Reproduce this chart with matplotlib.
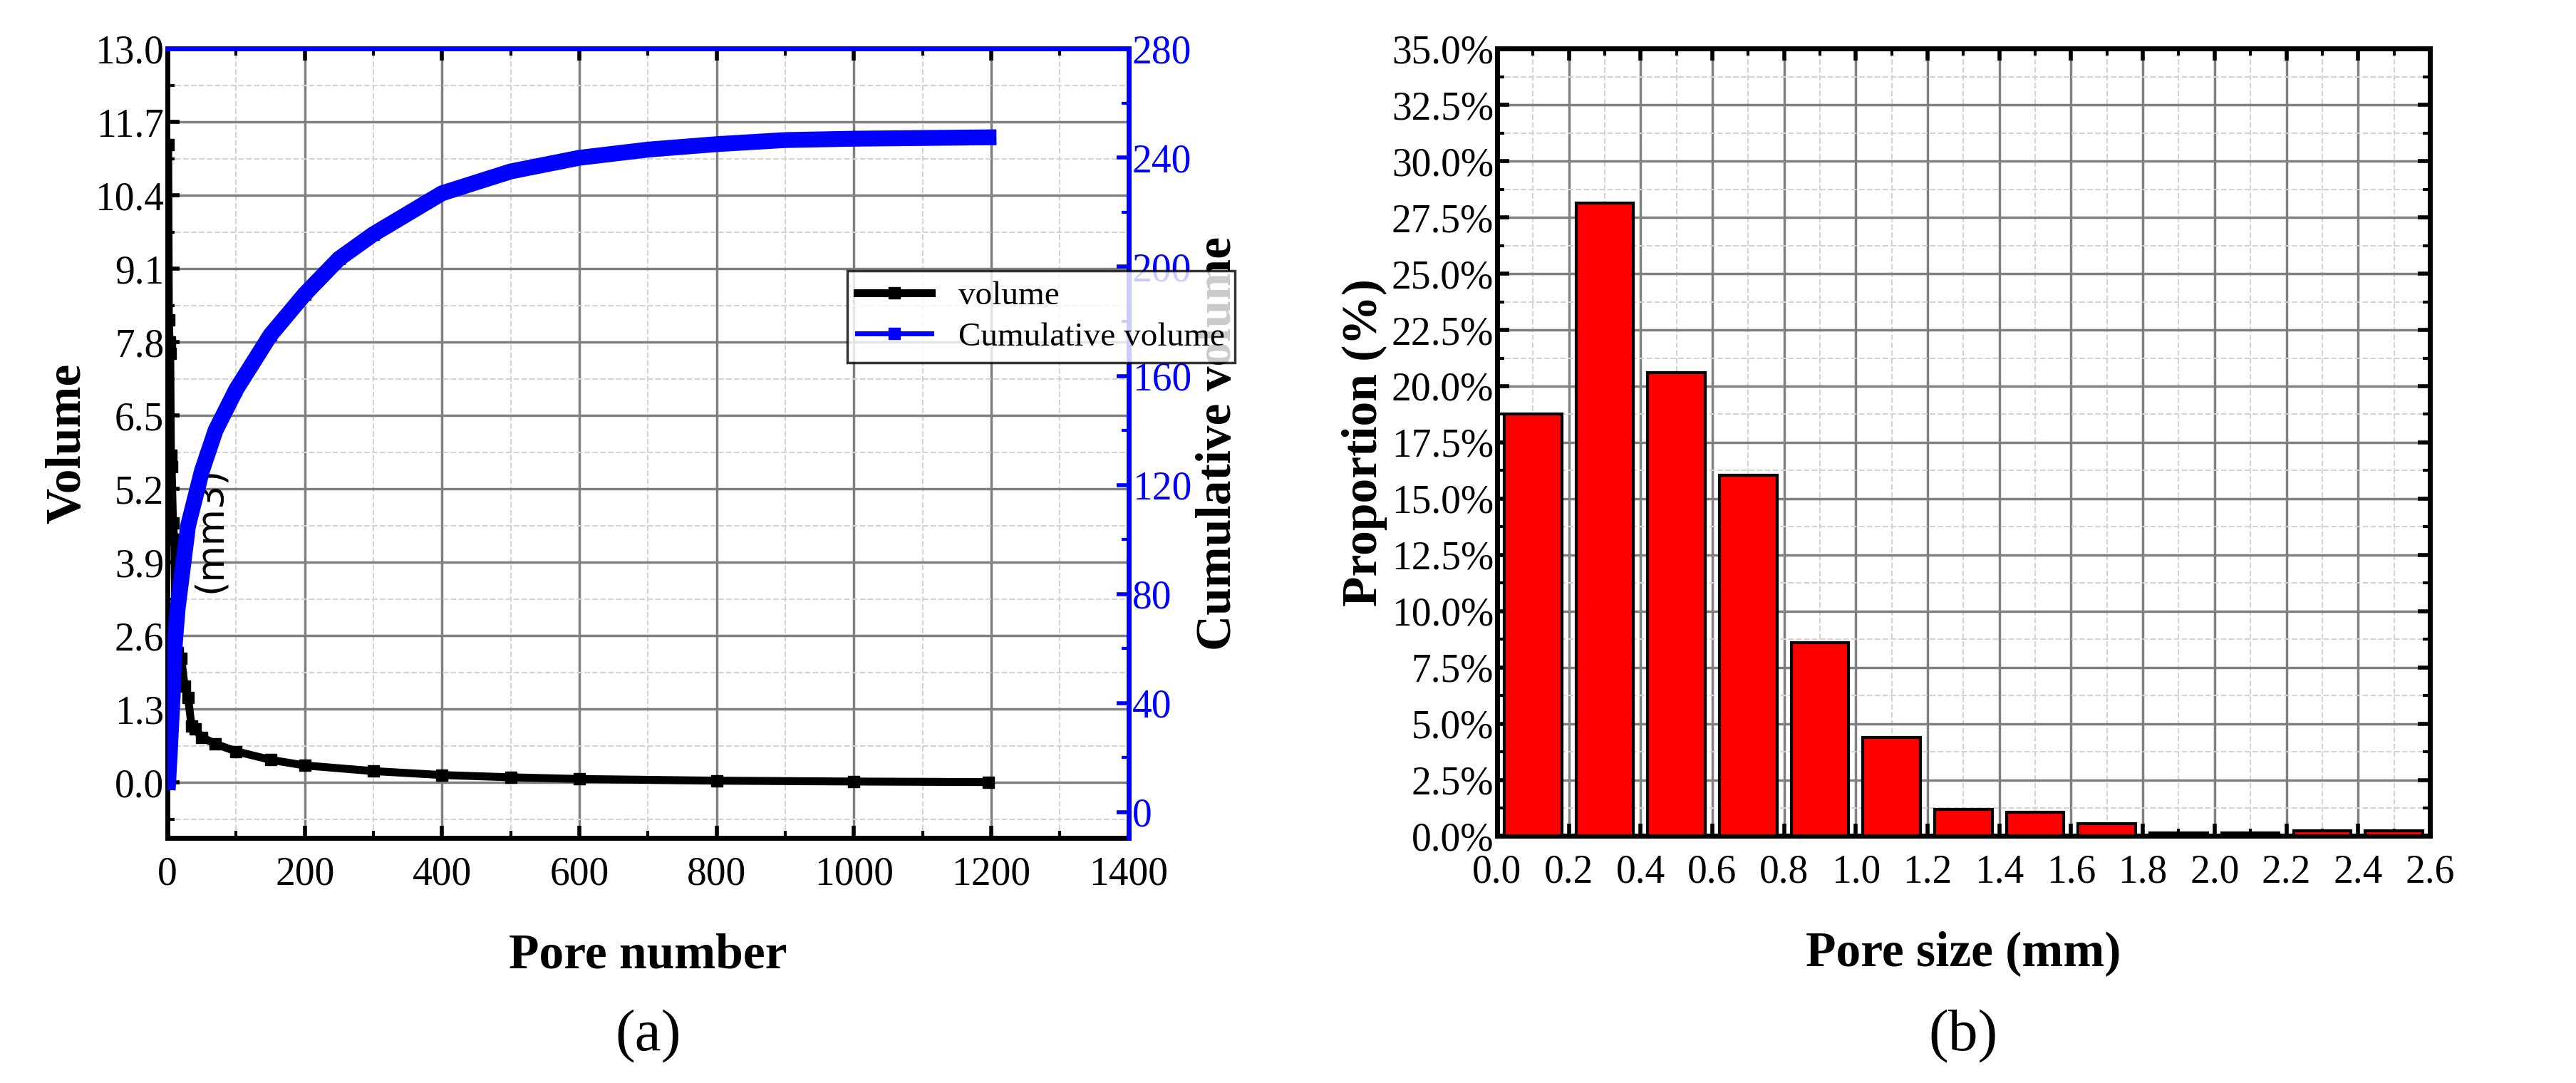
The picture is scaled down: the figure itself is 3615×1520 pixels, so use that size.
import matplotlib
matplotlib.use('Agg')
import matplotlib.pyplot as plt
from matplotlib.ticker import MultipleLocator, PercentFormatter

plt.rcParams['font.family'] = ['Liberation Serif', 'DejaVu Serif']

# (a) pore volumes sorted by size
pore_idx = [1, 2, 3, 4, 5, 6, 8, 10, 12, 15, 20, 25, 30, 35, 40, 50, 70, 100,
            150, 200, 300, 400, 500, 600, 800, 1000, 1196]
volume = [11.3, 8.2, 7.8, 7.6, 5.8, 5.6, 4.6, 4.3, 2.5, 2.3, 2.2, 1.7, 1.5,
          1.0, 0.95, 0.8, 0.68, 0.55, 0.4, 0.3, 0.2, 0.13, 0.09, 0.06, 0.03,
          0.015, 0.005]
cum_idx = [1, 3, 5, 8, 10, 15, 20, 30, 50, 70, 100, 150, 200, 250, 300, 400,
           500, 600, 700, 800, 900, 1000, 1196]
cum_volume = [11, 20, 30, 45, 60, 75, 85, 105, 125, 140, 155, 175, 190, 203,
              212, 227, 235, 240, 243, 245, 246.5, 247, 247.5]

# (b) pore size distribution
size_centers = [0.1, 0.3, 0.5, 0.7, 0.9, 1.1, 1.3, 1.5, 1.7, 1.9, 2.1, 2.3, 2.5]
proportion = [18.75, 28.15, 20.6, 16.05, 8.6, 4.4, 1.2, 1.05, 0.55, 0.15,
              0.15, 0.25, 0.25]

fig = plt.figure(figsize=(36.16, 15.2), dpi=100)
ax1 = fig.add_axes([0.065, 0.226, 0.373, 0.729])
ax2 = ax1.twinx()

ax1.plot(pore_idx, volume, color='black', lw=8, marker='s', ms=12, label='volume')
ax2.plot(cum_idx, cum_volume, color='blue', lw=16, marker='s', ms=12, label='Cumulative volume')

ax1.set_xlim(0, 1400)
ax1.set_ylim(-0.99, 13.0)
ax2.set_ylim(-9.6, 280)
ax1.xaxis.set_major_locator(MultipleLocator(200))
ax1.xaxis.set_minor_locator(MultipleLocator(100))
ax1.yaxis.set_major_locator(MultipleLocator(1.3))
ax1.yaxis.set_minor_locator(MultipleLocator(0.65))
ax1.yaxis.set_major_formatter(plt.FuncFormatter(lambda v, p: f"{v:.1f}"))
ax2.yaxis.set_major_locator(MultipleLocator(40))
ax2.yaxis.set_minor_locator(MultipleLocator(20))
ax1.grid(which='major', color='gray', lw=2.5)
ax1.grid(which='minor', color='lightgray', lw=1.5, ls='--')
ax1.tick_params(axis='both', labelsize=40, width=4, length=12, direction='in', top=True)
ax1.tick_params(which='minor', width=3, length=7, direction='in', top=True)
ax1.tick_params(axis='x', pad=18)
ax2.tick_params(axis='y', labelsize=40, colors='blue', width=4, length=12, direction='in')
ax2.tick_params(which='minor', colors='blue', width=3, length=7, direction='in')
for s in ['left', 'bottom']:
    ax1.spines[s].set_linewidth(5)
ax2.spines['right'].set_color('blue')
ax2.spines['right'].set_linewidth(5)
ax2.spines['top'].set_color('blue')
ax2.spines['top'].set_linewidth(5)
ax2.spines['left'].set_visible(False)
ax2.spines['bottom'].set_visible(False)
ax1.set_xlabel('Pore number', fontsize=50, fontweight='bold', labelpad=40)
ax1.set_ylabel('Volume', fontsize=50, fontweight='bold')
ax2.set_ylabel('Cumulative volume', fontsize=50, fontweight='bold')
ax1.text(35, 3.5, '(mm3)', rotation=90, fontsize=38, family='DejaVu Sans')

h1, l1 = ax1.get_legend_handles_labels()
h2, l2 = ax2.get_legend_handles_labels()
leg = ax2.legend(h1 + h2, l1 + l2, loc='upper left', bbox_to_anchor=(0.69, 0.74),
                 fontsize=34, fancybox=False, edgecolor='black', handlelength=2.2,
                 borderpad=0.3, labelspacing=0.3)
leg.get_frame().set_linewidth(2.5)
leg.legend_handles[1].set_linewidth(5)
fig.text(0.2515, 0.03, '(a)', fontsize=60, ha='center')

# (b)
ax3 = fig.add_axes([0.581, 0.228, 0.362, 0.727])
ax3.bar(size_centers, proportion, width=0.16, color='red', edgecolor='black', lw=3, zorder=3)
ax3.set_xlim(0, 2.6)
ax3.set_ylim(0, 35)
ax3.xaxis.set_major_locator(MultipleLocator(0.2))
ax3.xaxis.set_minor_locator(MultipleLocator(0.1))
ax3.yaxis.set_major_locator(MultipleLocator(2.5))
ax3.yaxis.set_minor_locator(MultipleLocator(1.25))
ax3.xaxis.set_major_formatter(plt.FuncFormatter(lambda v, p: f"{v:.1f}"))
ax3.yaxis.set_major_formatter(PercentFormatter(decimals=1))
ax3.grid(which='major', color='gray', lw=2.5)
ax3.grid(which='minor', color='lightgray', lw=1.5, ls='--')
ax3.tick_params(labelsize=40, width=4, length=12, direction='in', top=True, right=True)
ax3.tick_params(which='minor', width=3, length=7, direction='in', top=True, right=True)
ax3.tick_params(axis='x', pad=18)
for s in ax3.spines.values():
    s.set_linewidth(5)
ax3.set_xlabel('Pore size (mm)', fontsize=50, fontweight='bold', labelpad=40)
ax3.set_ylabel('Proportion (%)', fontsize=50, fontweight='bold')
fig.text(0.762, 0.03, '(b)', fontsize=60, ha='center')

fig.savefig('out.png', dpi=100)
